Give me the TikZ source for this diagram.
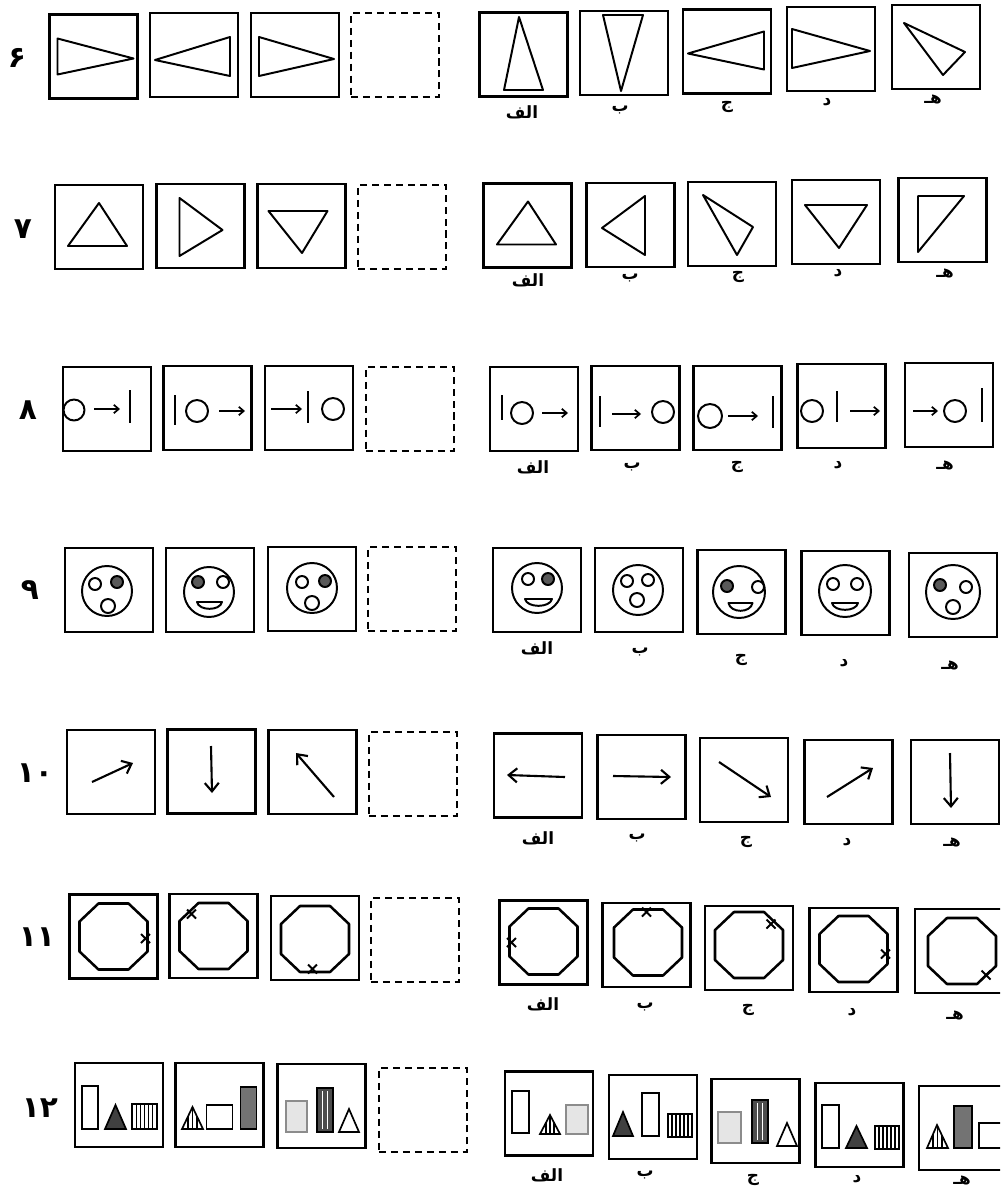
\documentclass[tikz,border=0pt]{standalone}
\usepackage{fontspec}
\newfontfamily\arabicfont[Script=Arabic]{DejaVu Sans}
\TeXXeTstate=1
\usetikzlibrary{arrows.meta}
\newcommand\myx[2]{\draw[line width=1.4pt] ({(#1)-4.5},{(#2)-4.5}) -- ({(#1)+4.5},{(#2)+4.5}) ({(#1)-4.5},{(#2)+4.5}) -- ({(#1)+4.5},{(#2)-4.5});}
\newcommand\myocta[2]{\draw[ln,line width=1.8pt] ({(#1)-15},{(#2)-33}) -- ({(#1)+15},{(#2)-33}) -- ({(#1)+34},{(#2)-15}) -- ({(#1)+34},{(#2)+15}) -- ({(#1)+15},{(#2)+33}) -- ({(#1)-15},{(#2)+33}) -- ({(#1)-34},{(#2)+15}) -- ({(#1)-34},{(#2)-15}) -- cycle;}
\newcommand\myface[3]{\draw[ln] (#1,#2) circle[radius=#3];}
\newcommand\oeye[2]{\draw[ln,fill=white] (#1,#2) circle[radius=6];}
\newcommand\feye[2]{\draw[ln,fill=black!65] (#1,#2) circle[radius=6];}
\newcommand\omouth[2]{\draw[ln] (#1,#2) circle[radius=7];}
\newcommand\mysmile[4]{\draw[ln] (#1,#3) -- (#2,#3) .. controls ({(#2)-2},{(#3)+1.3*(#4)}) and ({(#1)+2},{(#3)+1.3*(#4)}) .. cycle;}
\newcommand\wrect[4]{\draw[sh] (#1,#2) rectangle (#3,#4);}
\newcommand\grect[4]{\draw[sh,fill=black!55] (#1,#2) rectangle (#3,#4);}
\newcommand\lrect[4]{\draw[sh,draw=black!45,fill=black!10] (#1,#2) rectangle (#3,#4);}
\newcommand\srect[4]{\draw[sh] (#1,#2) rectangle (#3,#4);
  \foreach \k in {1,...,5}{\draw[line width=0.8pt] ({(#1)+\k*((#3)-(#1))/6},#2) -- ({(#1)+\k*((#3)-(#1))/6},#4);}}
\newcommand\drect[4]{\draw[sh,fill=black!70] (#1,#2) rectangle (#3,#4);
  \foreach \k in {1,2}{\draw[white,line width=0.8pt] ({(#1)+\k*((#3)-(#1))/3},{(#2)+3}) -- ({(#1)+\k*((#3)-(#1))/3},{(#4)-3});}}
\newcommand\dtri[5]{\draw[sh,fill=black!75] (#1,#3) -- (#2,#3) -- (#4,#5) -- cycle;}
\newcommand\wtri[5]{\draw[sh] (#1,#3) -- (#2,#3) -- (#4,#5) -- cycle;}
\newcommand\htri[5]{\begin{scope}\clip (#1,#3) -- (#2,#3) -- (#4,#5) -- cycle;
  \foreach \k in {0.3,0.5,0.7}{\draw[line width=1.3pt] ({(#1)+\k*((#2)-(#1))},#3) -- ({(#1)+\k*((#2)-(#1))},#5);}\end{scope}
  \draw[sh,fill=none] (#1,#3) -- (#2,#3) -- (#4,#5) -- cycle;}
\begin{document}
\begin{tikzpicture}[x=0.025cm,y=-0.025cm,
  qbox/.style={draw,line width=1.6pt,minimum width=2.2cm,minimum height=2.1cm,inner sep=0pt},
  dbox/.style={qbox,dash pattern=on 5pt off 3.5pt},
  ln/.style={line width=1.4pt,line join=round},
  sh/.style={line width=1.2pt,fill=white},
  lbl/.style={font=\arabicfont\bfseries\fontsize{12}{14}\selectfont,inner sep=0pt},
  num/.style={font=\arabicfont\bfseries\fontsize{21}{24}\selectfont,inner sep=0pt},
  ar8/.style={line width=1.2pt,-{Straight Barb[length=3.5pt,width=6pt]}},
  ar10/.style={line width=1.5pt,-{Straight Barb[length=6pt,width=10pt]}}]
\fill[white] (0,0) rectangle (1000,1190);
\useasboundingbox (0,0) rectangle (1000,1190);
\clip (0,0) rectangle (1000,1190);

% ---------------- Row 6 ----------------
\node[num] (n6) at (17,58) {۶};
\node[qbox] (r6q1) at (93.5,56.5) {};
\node[qbox] (r6q2) at (194,55) {};
\node[qbox] (r6q3) at (295,55) {};
\node[dbox] (r6qd) at (395,55) {};
\begin{scope}[shift={(r6q1.center)}]\draw[ln] (-36,-18) -- (-36,18) -- (40,2) -- cycle;\end{scope}
\begin{scope}[shift={(r6q2.center)}]\draw[ln] (-39,5) -- (36,-18) -- (36,21) -- cycle;\end{scope}
\begin{scope}[shift={(r6q3.center)}]\draw[ln] (-36,-18) -- (-36,21) -- (39,4) -- cycle;\end{scope}
\node[qbox] (r6a1) at (523.5,54.5) {};
\node[qbox] (r6a2) at (624,53) {};
\node[qbox] (r6a3) at (727,51.5) {};
\node[qbox] (r6a4) at (831,49) {};
\node[qbox] (r6a5) at (936,47) {};
\begin{scope}[shift={(r6a1.center)}]\draw[ln] (-4.5,-37.5) -- (-19.5,35.5) -- (19.5,35.5) -- cycle;\end{scope}
\begin{scope}[shift={(r6a2.center)}]\draw[ln] (-21,-38) -- (19,-38) -- (-3,38) -- cycle;\end{scope}
\begin{scope}[shift={(r6a3.center)}]\draw[ln] (-39,2) -- (37,-20) -- (37,18) -- cycle;\end{scope}
\begin{scope}[shift={(r6a4.center)}]\draw[ln] (-39,-20) -- (-39,19) -- (39,2) -- cycle;\end{scope}
\begin{scope}[shift={(r6a5.center)}]\draw[ln] (-32,-24) -- (29,5) -- (7,28) -- cycle;\end{scope}
\node[lbl] (r6l1) at (522,112) {\beginR الف\endR};
\node[lbl] (r6l2) at (620,110) {\beginR ب\endR};
\node[lbl] (r6l3) at (727,107) {\beginR ج\endR};
\node[lbl] (r6l4) at (827,102) {\beginR د\endR};
\node[lbl] (r6l5) at (933,100) {\beginR هـ\endR};

% ---------------- Row 7 ----------------
\node[num] (n7) at (23,229) {۷};
\node[qbox] (r7q1) at (99,227) {};
\node[qbox] (r7q2) at (200.5,226) {};
\node[qbox] (r7q3) at (301.5,226) {};
\node[dbox] (r7qd) at (402,227) {};
\begin{scope}[shift={(r7q1.center)}]\draw[ln] (0,-24) -- (-31,19) -- (28,19) -- cycle;\end{scope}
\begin{scope}[shift={(r7q2.center)}]\draw[ln] (-21,-28) -- (-21,30) -- (22,4) -- cycle;\end{scope}
\begin{scope}[shift={(r7q3.center)}]\draw[ln] (-33,-15) -- (26,-15) -- (0.5,27) -- cycle;\end{scope}
\node[qbox] (r7a1) at (527.5,225.5) {};
\node[qbox] (r7a2) at (630.5,225) {};
\node[qbox] (r7a3) at (732,224) {};
\node[qbox] (r7a4) at (836,222) {};
\node[qbox] (r7a5) at (942.5,220) {};
\begin{scope}[shift={(r7a1.center)}]\draw[ln] (0.5,-24) -- (-30.5,19) -- (28.5,19) -- cycle;\end{scope}
\begin{scope}[shift={(r7a2.center)}]\draw[ln] (14.5,-29) -- (14.5,30) -- (-28.5,3) -- cycle;\end{scope}
\begin{scope}[shift={(r7a3.center)}]\draw[ln] (-29,-29) -- (21,3) -- (5,31) -- cycle;\end{scope}
\begin{scope}[shift={(r7a4.center)}]\draw[ln] (-31,-17) -- (31,-17) -- (3,26) -- cycle;\end{scope}
\begin{scope}[shift={(r7a5.center)}]\draw[ln] (-24.5,-24) -- (21.5,-24) -- (-24.5,32) -- cycle;\end{scope}
\node[lbl] (r7l1) at (528,280) {\beginR الف\endR};
\node[lbl] (r7l2) at (630,278) {\beginR ب\endR};
\node[lbl] (r7l3) at (738,277) {\beginR ج\endR};
\node[lbl] (r7l4) at (838,273) {\beginR د\endR};
\node[lbl] (r7l5) at (945,273) {\beginR هـ\endR};

% ---------------- Row 8 ----------------
\node[num] (n8) at (28,410) {۸};
\node[qbox] (r8q1) at (107,409) {};
\node[qbox] (r8q2) at (207.5,408) {};
\node[qbox] (r8q3) at (309,408) {};
\node[dbox] (r8qd) at (410,409) {};
\begin{scope}[shift={(r8q1.center)}]
 \draw[ln] (-33,1) circle[radius=10.5]; \draw[ar8] (-13,0) -- (13,0); \draw[ln] (23,-19) -- (23,14);\end{scope}
\begin{scope}[shift={(r8q2.center)}]
 \draw[ln] (-32.5,-13) -- (-32.5,17); \draw[ln] (-10.5,3) circle[radius=11]; \draw[ar8] (11.5,3) -- (37.5,3);\end{scope}
\begin{scope}[shift={(r8q3.center)}]
 \draw[ar8] (-38,1) -- (-7,1); \draw[ln] (-1,-17) -- (-1,15); \draw[ln] (24,1) circle[radius=11];\end{scope}
\node[qbox] (r8a1) at (534,409) {};
\node[qbox] (r8a2) at (635.5,408) {};
\node[qbox] (r8a3) at (737.5,408) {};
\node[qbox] (r8a4) at (841.5,406) {};
\node[qbox] (r8a5) at (949,405) {};
\begin{scope}[shift={(r8a1.center)}]
 \draw[ln] (-32,-14) -- (-32,11); \draw[ln] (-12,4) circle[radius=11]; \draw[ar8] (8,4) -- (34,4);\end{scope}
\begin{scope}[shift={(r8a2.center)}]
 \draw[ln] (-35.5,-12) -- (-35.5,19); \draw[ar8] (-23.5,6) -- (5.5,6); \draw[ln] (27.5,4) circle[radius=11];\end{scope}
\begin{scope}[shift={(r8a3.center)}]
 \draw[ln] (-27.5,8) circle[radius=12]; \draw[ar8] (-9.5,8) -- (20.5,8); \draw[ln] (35.5,-12) -- (35.5,20);\end{scope}
\begin{scope}[shift={(r8a4.center)}]
 \draw[ln] (-29.5,5) circle[radius=11]; \draw[ln] (-4.5,-15) -- (-4.5,16); \draw[ar8] (8.5,5) -- (38.5,5);\end{scope}
\begin{scope}[shift={(r8a5.center)}]
 \draw[ar8] (-36,6) -- (-11,6); \draw[ln] (6,6) circle[radius=11]; \draw[ln] (33,-17) -- (33,17);\end{scope}
\node[lbl] (r8l1) at (533,467) {\beginR الف\endR};
\node[lbl] (r8l2) at (632,467) {\beginR ب\endR};
\node[lbl] (r8l3) at (737,467) {\beginR ج\endR};
\node[lbl] (r8l4) at (838,465) {\beginR د\endR};
\node[lbl] (r8l5) at (945,465) {\beginR هـ\endR};

% ---------------- Row 9 ----------------
\node[num] (n9) at (30,590) {۹};
\node[qbox] (r9q1) at (109,590) {};
\node[qbox] (r9q2) at (210,590) {};
\node[qbox] (r9q3) at (312,589) {};
\node[dbox] (r9qd) at (412,589) {};
\begin{scope}[shift={(r9q1.center)}]
 \myface{-2}{1}{25}\oeye{-14}{-6}\feye{8}{-8}\omouth{-1}{16}\end{scope}
\begin{scope}[shift={(r9q2.center)}]
 \myface{-1}{2}{25}\feye{-12}{-8}\oeye{13}{-8}\mysmile{-13}{12}{12}{7}\end{scope}
\begin{scope}[shift={(r9q3.center)}]
 \myface{0}{-1}{25}\oeye{-10}{-7}\feye{13}{-8}\omouth{0}{14}\end{scope}
\node[qbox] (r9a1) at (537,590) {};
\node[qbox] (r9a2) at (639,590) {};
\node[qbox] (r9a3) at (741.5,592) {};
\node[qbox] (r9a4) at (845.5,593) {};
\node[qbox] (r9a5) at (953,595) {};
\begin{scope}[shift={(r9a1.center)}]
 \myface{0}{-2}{25}\oeye{-9}{-11}\feye{11}{-11}\mysmile{-12}{15}{9}{7}\end{scope}
\begin{scope}[shift={(r9a2.center)}]
 \myface{-1}{0}{25}\oeye{-12}{-9}\oeye{9}{-10}\omouth{-2}{10}\end{scope}
\begin{scope}[shift={(r9a3.center)}]
 \myface{-2.5}{0}{26}\feye{-14.5}{-6}\oeye{16.5}{-5}\mysmile{-13}{11}{11}{8}\end{scope}
\begin{scope}[shift={(r9a4.center)}]
 \myface{-0.5}{-2}{26}\oeye{-12.5}{-9}\oeye{11.5}{-9}\mysmile{-13.5}{12.5}{10}{7}\end{scope}
\begin{scope}[shift={(r9a5.center)}]
 \myface{0}{-3}{27}\feye{-13}{-10}\oeye{13}{-8}\omouth{0}{12}\end{scope}
\node[lbl] (r9l1) at (537,648) {\beginR الف\endR};
\node[lbl] (r9l2) at (640,652) {\beginR ب\endR};
\node[lbl] (r9l3) at (741,660) {\beginR ج\endR};
\node[lbl] (r9l4) at (844,663) {\beginR د\endR};
\node[lbl] (r9l5) at (950,665) {\beginR هـ\endR};

% ---------------- Row 10 ----------------
\node[num] (n10) at (35,773) {۱۰};
\node[qbox] (r10q1) at (111,772) {};
\node[qbox] (r10q2) at (211.5,771.5) {};
\node[qbox] (r10q3) at (312.5,772) {};
\node[dbox] (r10qd) at (413,774) {};
\begin{scope}[shift={(r10q1.center)}]\draw[ar10] (-19,10) -- (22,-9);\end{scope}
\begin{scope}[shift={(r10q2.center)}]\draw[ar10] (-0.5,-25.5) -- (0.5,21.5);\end{scope}
\begin{scope}[shift={(r10q3.center)}]\draw[ar10] (21.5,25) -- (-16.5,-19);\end{scope}
\node[qbox] (r10a1) at (538,775.5) {};
\node[qbox] (r10a2) at (641.5,777) {};
\node[qbox] (r10a3) at (744,780) {};
\node[qbox] (r10a4) at (848.5,782) {};
\node[qbox] (r10a5) at (955,782) {};
\begin{scope}[shift={(r10a1.center)}]\draw[ar10] (27,1.5) -- (-31,-0.5);\end{scope}
\begin{scope}[shift={(r10a2.center)}]\draw[ar10] (-28.5,-1) -- (29.5,0);\end{scope}
\begin{scope}[shift={(r10a3.center)}]\draw[ar10] (-25,-18) -- (27,17);\end{scope}
\begin{scope}[shift={(r10a4.center)}]\draw[ar10] (-21.5,15) -- (24.5,-14);\end{scope}
\begin{scope}[shift={(r10a5.center)}]\draw[ar10] (-5,-29) -- (-4,26);\end{scope}
\node[lbl] (r10l1) at (538,838) {\beginR الف\endR};
\node[lbl] (r10l2) at (637,838) {\beginR ب\endR};
\node[lbl] (r10l3) at (746,842) {\beginR ج\endR};
\node[lbl] (r10l4) at (847,842) {\beginR د\endR};
\node[lbl] (r10l5) at (952,842) {\beginR هـ\endR};

% ---------------- Row 11 ----------------
\node[num] (n11) at (37,937) {۱۱};
\node[qbox] (r11q1) at (113.5,936.5) {};
\node[qbox] (r11q2) at (213.5,936) {};
\node[qbox] (r11q3) at (315,938) {};
\node[dbox] (r11qd) at (415,940) {};
\begin{scope}[shift={(r11q1.center)}]\myocta{0}{0}\myx{32}{2}\end{scope}
\begin{scope}[shift={(r11q2.center)}]\myocta{0}{0}\myx{-22}{-22}\end{scope}
\begin{scope}[shift={(r11q3.center)}]\myocta{0}{1}\myx{-2.5}{31}\end{scope}
\node[qbox] (r11a1) at (543.5,942.5) {};
\node[qbox] (r11a2) at (646.5,945) {};
\node[qbox] (r11a3) at (749,948) {};
\node[qbox] (r11a4) at (853.5,950) {};
\node[qbox] (r11a5) at (959,951) {};
\begin{scope}[shift={(r11a1.center)}]\myocta{0}{-1}\myx{-32}{0}\end{scope}
\begin{scope}[shift={(r11a2.center)}]\myocta{1.5}{-2.5}\myx{0}{-33}\end{scope}
\begin{scope}[shift={(r11a3.center)}]\myocta{0}{-3}\myx{22}{-24}\end{scope}
\begin{scope}[shift={(r11a4.center)}]\myocta{0}{-1}\myx{32}{4}\end{scope}
\begin{scope}[shift={(r11a5.center)}]\myocta{3}{0}\myx{27}{24}\end{scope}
\node[lbl] (r11l1) at (543,1004) {\beginR الف\endR};
\node[lbl] (r11l2) at (645,1007) {\beginR ب\endR};
\node[lbl] (r11l3) at (748,1010) {\beginR ج\endR};
\node[lbl] (r11l4) at (852,1012) {\beginR د\endR};
\node[lbl] (r11l5) at (955,1015) {\beginR هـ\endR};

% ---------------- Row 12 ----------------
\node[num] (n12) at (40,1108) {۱۲};
\node[qbox] (r12q1) at (119,1105) {};
\node[qbox] (r12q2) at (219.5,1105) {};
\node[qbox] (r12q3) at (321.5,1106) {};
\node[dbox] (r12qd) at (423,1110) {};
\begin{scope}[shift={(r12q1.center)}]
 \wrect{-37}{-19}{-21}{24}\dtri{-14}{7}{24}{-3.5}{0}\srect{13}{-1}{38}{24}\end{scope}
\begin{scope}[shift={(r12q2.center)}]
 \htri{-37.5}{-16.5}{24}{-27}{2}\wrect{-13}{0}{13}{24}\grect{21}{-18}{37}{24}\end{scope}
\begin{scope}[shift={(r12q3.center)}]
 \lrect{-35.5}{-5}{-14.5}{26}\drect{-4.5}{-18}{11.5}{26}\wtri{17.5}{37.5}{26}{27.5}{3}\end{scope}
\node[qbox] (r12a1) at (549,1113.5) {};
\node[qbox] (r12a2) at (653,1117) {};
\node[qbox] (r12a3) at (755.5,1121) {};
\node[qbox] (r12a4) at (859.5,1125) {};
\node[qbox] (r12a5) at (963,1128) {};
\begin{scope}[shift={(r12a1.center)}]
 \wrect{-37}{-22.5}{-20}{19.5}\htri{-9}{11}{20.5}{1}{1.5}\lrect{17}{-8.5}{39}{20.5}\end{scope}
\begin{scope}[shift={(r12a2.center)}]
 \dtri{-40}{-20}{19}{-30}{-5}\wrect{-11}{-24}{6}{19}\srect{15}{-3}{39}{20}\end{scope}
\begin{scope}[shift={(r12a3.center)}]
 \lrect{-37.5}{-9}{-14.5}{22}\drect{-3.5}{-21}{12.5}{22}\wtri{21.5}{41.5}{25}{31.5}{2}\end{scope}
\begin{scope}[shift={(r12a4.center)}]
 \wrect{-37.5}{-20}{-20.5}{23}\dtri{-13.5}{7.5}{23}{-3}{1}\srect{15.5}{1}{39.5}{24}\end{scope}
\begin{scope}[shift={(r12a5.center)}]
 \htri{-36}{-15}{20}{-26}{-3}\grect{-9}{-22}{9}{20}\wrect{16}{-5}{45}{20}\end{scope}
\node[lbl] (r12l1) at (547,1175) {\beginR الف\endR};
\node[lbl] (r12l2) at (645,1175) {\beginR ب\endR};
\node[lbl] (r12l3) at (753,1180) {\beginR ج\endR};
\node[lbl] (r12l4) at (857,1179) {\beginR د\endR};
\node[lbl] (r12l5) at (962,1180) {\beginR هـ\endR};
\end{tikzpicture}
\end{document}
